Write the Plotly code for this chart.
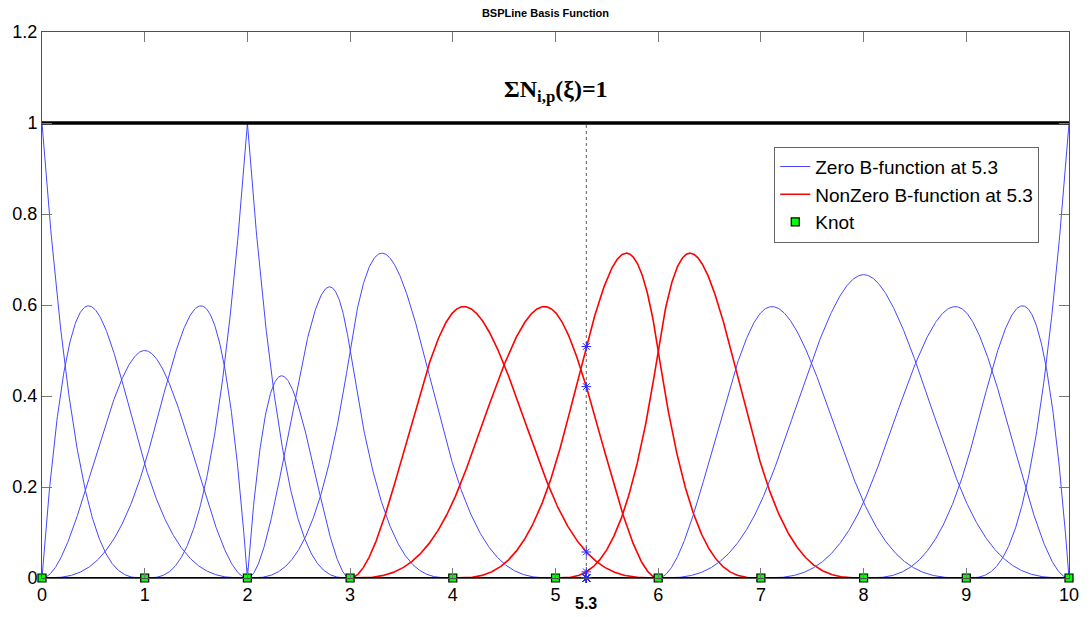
import numpy as np
import plotly.graph_objects as go

# ---- data ----
degree = 3
knot_vector = [0, 0, 0, 0, 1, 2, 2, 2, 3, 3, 4, 5, 6, 6, 7, 8, 9, 10, 10, 10, 10]
knot_values = [0, 1, 2, 3, 4, 5, 6, 7, 8, 9, 10]
eval_point = 5.3
x_ticks = [0, 1, 2, 3, 4, 5, 6, 7, 8, 9, 10]
y_ticks = [0, 0.2, 0.4, 0.6, 0.8, 1.0, 1.2]
y_tick_text = ["0", "0.2", "0.4", "0.6", "0.8", "1", "1.2"]


def basis(U, p, x):
    """Cox-de Boor recursion, returns array (n_basis, len(x))."""
    U = np.asarray(U, float)
    x = np.atleast_1d(np.asarray(x, float))
    m = len(U) - 1
    N = np.zeros((m, len(x)))
    for i in range(m):
        N[i] = ((x >= U[i]) & (x < U[i + 1])).astype(float)
    last = np.max(np.nonzero(U[:-1] < U[1:])[0])
    N[last, x == U[-1]] = 1.0
    for k in range(1, p + 1):
        Nn = np.zeros((m - k, len(x)))
        for i in range(m - k):
            a = U[i + k] - U[i]
            b = U[i + k + 1] - U[i + 1]
            t1 = (x - U[i]) / a * N[i] if a > 0 else 0
            t2 = (U[i + k + 1] - x) / b * N[i + 1] if b > 0 else 0
            Nn[i] = t1 + t2
        N = Nn
    return N


xs = np.linspace(knot_vector[0], knot_vector[-1], 2001)
N = basis(knot_vector, degree, xs)
Ne = basis(knot_vector, degree, [eval_point])[:, 0]

fig = go.Figure()
first_blue = True
first_red = True
for i in range(N.shape[0]):
    lo, hi = knot_vector[i], knot_vector[i + degree + 1]
    y = np.where((xs >= lo) & (xs <= hi), N[i], np.nan)
    nonzero = Ne[i] > 1e-12
    if nonzero:
        fig.add_trace(go.Scatter(x=xs, y=y, mode="lines",
                                 line=dict(color="rgb(255,0,0)", width=1.6),
                                 name="NonZero B-function at 5.3",
                                 legendgroup="nz", showlegend=first_red,
                                 legendrank=2))
        first_red = False
    else:
        fig.add_trace(go.Scatter(x=xs, y=y, mode="lines",
                                 line=dict(color="rgb(70,70,255)", width=1),
                                 name="Zero B-function at 5.3",
                                 legendgroup="z", showlegend=first_blue,
                                 legendrank=1))
        first_blue = False

# sum of basis functions
fig.add_trace(go.Scatter(x=xs, y=N.sum(axis=0), mode="lines",
                         line=dict(color="black", width=3.5), showlegend=False))

# vertical dotted line at evaluation point
fig.add_trace(go.Scatter(x=[eval_point, eval_point], y=[0, 1], mode="lines",
                         line=dict(color="rgb(90,90,90)", width=1, dash="dot"),
                         showlegend=False))

# black baseline at y=0
fig.add_trace(go.Scatter(x=[knot_vector[0], knot_vector[-1]], y=[0, 0], mode="lines",
                         line=dict(color="black", width=2), showlegend=False))

# values at evaluation point
fig.add_trace(go.Scatter(x=[eval_point] * len(Ne), y=Ne, mode="markers",
                         marker=dict(symbol="asterisk-open", size=8, color="rgb(40,40,255)",
                                     line=dict(color="rgb(40,40,255)", width=1)),
                         showlegend=False, cliponaxis=False))

# knots
fig.add_trace(go.Scatter(x=knot_values, y=[0] * len(knot_values), mode="markers",
                         marker=dict(symbol="square", size=8, color="rgb(0,255,0)",
                                     line=dict(color="black", width=1.2)),
                         name="Knot", legendrank=3, cliponaxis=False))

fig.add_annotation(x=5.0, y=1.07, xref="x", yref="y",
                   text="<b>ΣN<sub>i,p</sub>(ξ)=1</b>", showarrow=False,
                   font=dict(family="Liberation Serif", size=24, color="black"))
fig.add_annotation(x=eval_point, y=-0.046, xref="x", yref="paper", yanchor="middle",
                   text="<b>5.3</b>", showarrow=False,
                   font=dict(family="Liberation Sans", size=16, color="black"))

fig.update_layout(
    width=1091, height=617,
    margin=dict(l=41, r=15, t=32, b=37),
    paper_bgcolor="white", plot_bgcolor="white",
    font=dict(family="Liberation Sans", size=18, color="black"),
    title=dict(text="<b>BSPLine Basis Function</b>", x=0.5, xanchor="center",
               y=0.985, yanchor="top",
               font=dict(family="Liberation Sans", size=11, color="black")),
    showlegend=True,
    legend=dict(x=0.713, y=0.79, xanchor="left", yanchor="top",
                bgcolor="white", bordercolor="rgb(100,100,100)", borderwidth=1,
                font=dict(size=19), tracegroupgap=0, itemwidth=30),
)
fig.update_xaxes(range=[0, 10], tickvals=x_ticks, ticks="inside", ticklen=10,
                 tickcolor="rgb(120,120,120)", showgrid=False, zeroline=False,
                 showline=True, linecolor="rgb(80,80,80)", linewidth=1,
                 mirror="ticks", tickfont=dict(size=18))
fig.update_yaxes(range=[0, 1.2], tickvals=y_ticks, ticktext=y_tick_text,
                 ticks="inside", ticklen=10, tickcolor="rgb(120,120,120)",
                 showgrid=False, zeroline=False, showline=True,
                 linecolor="rgb(80,80,80)", linewidth=1, mirror="ticks",
                 tickfont=dict(size=18))

fig.write_html("out.html")
